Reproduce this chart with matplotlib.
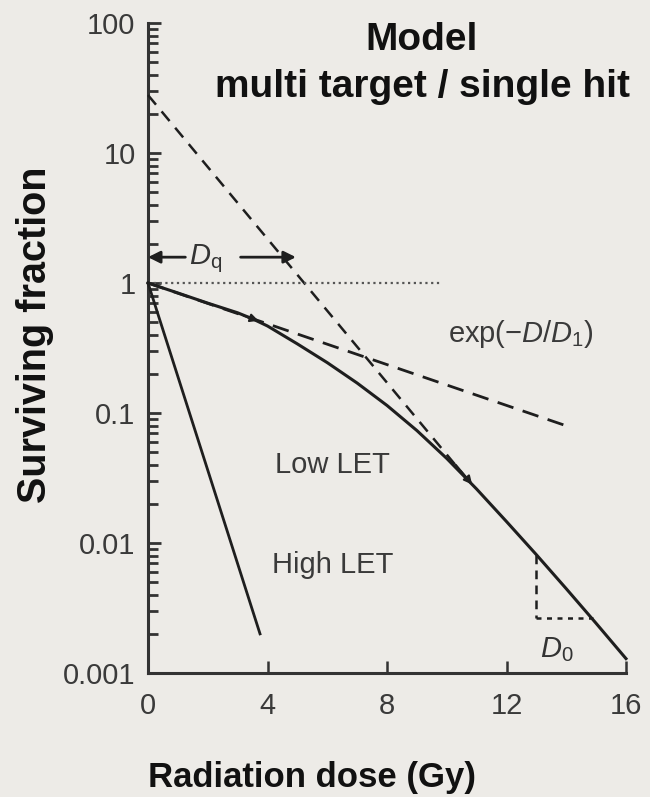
import matplotlib
matplotlib.use("Agg")
import matplotlib.pyplot as plt
from matplotlib.ticker import LogLocator, NullFormatter

plt.rcParams['font.family'] = ['Liberation Sans', 'DejaVu Sans']
plt.rcParams['mathtext.fontset'] = 'custom'
plt.rcParams['mathtext.rm'] = 'Liberation Sans'
plt.rcParams['mathtext.it'] = 'Liberation Sans:italic'

# ---- data ----
dose = [0, 1, 2, 3, 3.5, 4, 5, 6, 7, 8, 9, 10, 11, 12, 13, 14, 15, 16]
low_let = [1.0, 0.838, 0.70, 0.59, 0.53, 0.467, 0.340, 0.244, 0.170, 0.1143,
           0.0733, 0.0447, 0.0260, 0.01462, 0.00813, 0.00445, 0.00241, 0.00129]
high_dose = [0, 3.75]
high_let = [1.0, 0.002]
exp_dose = [0, 14.05]
exp_sf = [1.0, 0.079]
extrap_dose = [0, 10.9]
extrap_sf = [27.9, 0.027]
dotted_dose = [0, 9.85]
dotted_sf = [1.0, 1.0]
d0_vert_dose = [13.0, 13.0]
d0_vert_sf = [0.0081, 0.00266]
d0_hor_dose = [13.0, 14.9]
d0_hor_sf = [0.00266, 0.00266]
xticks = [0, 4, 8, 12, 16]
yticks = [1e-3, 1e-2, 1e-1, 1, 10, 100]
ytick_labels = ['0.001', '0.01', '0.1', '1', '10', '100']

bg = '#EDEBE7'
ink = '#1e1e1e'
gray = '#3a3a3a'

fig = plt.figure(figsize=(6.5, 7.97), dpi=100, facecolor=bg)
ax = fig.add_axes([148/650, 1-673/797, (626-148)/650, (673-23)/797])
ax.set_facecolor(bg)
ax.set_yscale('log')
ax.set_xlim(0, 16)
ax.set_ylim(1e-3, 100)

for s in ['top', 'right']:
    ax.spines[s].set_visible(False)
for s in ['left', 'bottom']:
    ax.spines[s].set_linewidth(2.2)
    ax.spines[s].set_color('#333333')

ax.set_xticks(xticks)
ax.set_xticklabels([str(v) for v in xticks])
ax.set_yticks(yticks)
ax.set_yticklabels(ytick_labels)
ax.yaxis.set_minor_locator(LogLocator(base=10, subs=range(2, 10), numticks=20))
ax.yaxis.set_minor_formatter(NullFormatter())
ax.tick_params(axis='y', which='major', direction='in', length=9, width=2,
               color='#333333', labelsize=21, labelcolor=gray, pad=9)
ax.tick_params(axis='y', which='minor', direction='in', length=7, width=2,
               color='#333333')
ax.tick_params(axis='x', which='major', direction='in', length=9, width=1.8,
               color='#333333', labelsize=21, labelcolor=gray, pad=14)

# curves
ax.plot(dose, low_let, color=ink, lw=2.2, clip_on=False, zorder=4)
ax.plot(high_dose, high_let, color=ink, lw=2.0, clip_on=False, zorder=4)
ax.plot(exp_dose, exp_sf, color=ink, lw=2.0, dashes=(6, 3.5), clip_on=False, zorder=3)
ax.plot(extrap_dose, extrap_sf, color=ink, lw=1.8, dashes=(5, 3.5), clip_on=False, zorder=3)
ax.plot(dotted_dose, dotted_sf, color='#555555', lw=1.6, linestyle=(0, (1, 1.6)),
        clip_on=False, zorder=3)
ax.plot(d0_vert_dose, d0_vert_sf, color=ink, lw=1.8, dashes=(3.5, 2.5), zorder=3)
ax.plot(d0_hor_dose, d0_hor_sf, color=ink, lw=1.8, dashes=(2, 2.2), zorder=3)

# tangent arrowheads
ax.annotate('', xy=(3.7, 0.512), xytext=(3.2, 0.561),
            arrowprops=dict(arrowstyle='-|>', color=ink, lw=1.5,
                            mutation_scale=12, shrinkA=0, shrinkB=0))
ax.annotate('', xy=(10.85, 0.0282), xytext=(10.3, 0.040),
            arrowprops=dict(arrowstyle='-|>', color=ink, lw=1.5,
                            mutation_scale=12, shrinkA=0, shrinkB=0))

# Dq arrows
ax.annotate('', xy=(0.0, 1.58), xytext=(1.25, 1.58),
            arrowprops=dict(arrowstyle='-|>', color=ink, lw=2.0,
                            mutation_scale=18, shrinkA=0, shrinkB=0),
            annotation_clip=False)
ax.annotate('', xy=(4.95, 1.58), xytext=(3.1, 1.58),
            arrowprops=dict(arrowstyle='-|>', color=ink, lw=2.0,
                            mutation_scale=18, shrinkA=0, shrinkB=0))
ax.text(1.38, 1.40, r'$D_\mathrm{q}$', fontsize=21, color='#333333',
        ha='left', va='baseline')

# labels inside
ax.text(4.25, 0.0345, 'Low LET', fontsize=21, color=gray, ha='left', va='baseline')
ax.text(4.15, 0.0059, 'High LET', fontsize=21, color=gray, ha='left', va='baseline')
ax.text(10.04, 0.352, r'exp($-D/D_1$)', fontsize=21, color=gray, ha='left', va='baseline')
ax.text(13.12, 0.00133, r'$D_0$', fontsize=21, color='#333333', ha='left', va='baseline')

# titles and axis labels
fig.text(422/650, 1-40/797, 'Model', fontsize=28, fontweight='bold',
         ha='center', va='center', color='#111111')
fig.text(422/650, 1-87/797, 'multi target / single hit', fontsize=28, fontweight='bold',
         ha='center', va='center', color='#111111')
fig.text(35/650, 1-335/797, 'Surviving fraction', fontsize=28.5, fontweight='bold',
         rotation=90, ha='center', va='center', color='#111111')
fig.text(312/650, 1-777/797, 'Radiation dose (Gy)', fontsize=25, fontweight='bold',
         ha='center', va='center', color='#111111')

fig.savefig('out.png', dpi=100, facecolor=bg)
